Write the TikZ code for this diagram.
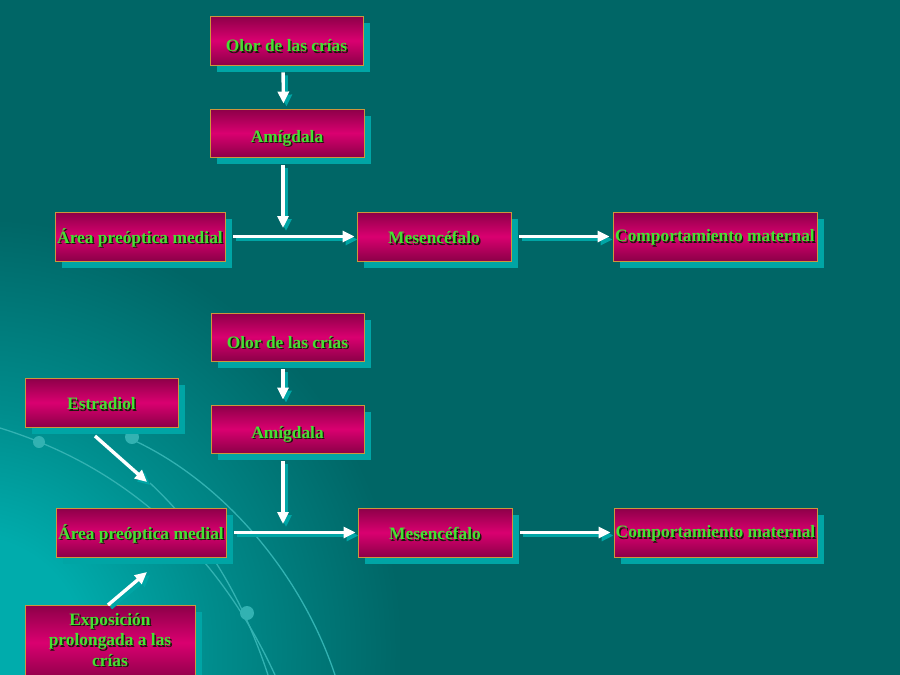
\documentclass[tikz,border=0pt]{standalone}
\usepackage{fontspec}
\setmainfont{Liberation Serif}
\usetikzlibrary{arrows.meta,shadows}
\definecolor{bg}{RGB}{0,102,102}
\definecolor{glowc}{RGB}{0,172,172}
\definecolor{midc}{RGB}{0,140,140}
\definecolor{boxsh}{RGB}{0,165,165}
\definecolor{magedge}{RGB}{140,0,72}
\definecolor{magmid}{RGB}{218,0,112}
\definecolor{gold}{RGB}{204,150,60}
\definecolor{tgreen}{RGB}{70,225,50}
\definecolor{tshadow}{RGB}{25,25,10}
\definecolor{arrsh}{RGB}{0,165,165}
\definecolor{decoc}{RGB}{50,178,178}
\pgfdeclareradialshading{glow}{\pgfpoint{0bp}{0bp}}{color(0bp)=(glowc); color(6bp)=(glowc); color(13bp)=(midc); color(23bp)=(bg); color(25bp)=(bg); color(50bp)=(bg)}
\newcommand\gtext[1]{\leavevmode\rlap{\kern1.4pt\raisebox{-1.4pt}{\color{tshadow}#1}}{\color{tgreen}#1}}
\newcommand\lowr[2]{\raisebox{-#1}[\height][\depth]{#2}}
\tikzset{
  box/.style={rectangle, inner sep=0pt, draw=gold, line width=0.9pt,
    top color=magedge, bottom color=magedge, middle color=magmid,
    drop shadow={shadow xshift=7pt, shadow yshift=-7pt, fill=boxsh, opacity=1},
    font=\fontsize{17.4}{20.5}\selectfont\bfseries, align=center},
  arr/.style={draw=white, line width=3.4pt, -{Triangle[length=12pt,width=11pt]},
    preaction={draw=arrsh, line width=3.4pt, -{Triangle[length=12pt,width=11pt]}, transform canvas={shift={(3pt,-3pt)}}}},
  deco/.style={draw=decoc, line width=1.3pt}
}
\begin{document}
\begin{tikzpicture}[x=1pt,y=-1pt]
\useasboundingbox (0,0) rectangle (900,675);
\fill[bg] (0,0) rectangle (900,675);
\begin{scope}
\clip (0,0) rectangle (900,675);
\shade[shading=glow] (-30,650) circle (470);
\draw[deco] (0,428) .. controls (120,465) and (215,545) .. (275,675);
\draw[deco] (133,440) .. controls (220,480) and (300,570) .. (335,675);
\draw[deco] (150,483) .. controls (200,530) and (240,590) .. (268,675);
\fill[decoc] (39,442) circle (6);
\fill[decoc] (132,437) circle (7);
\fill[decoc] (247,613) circle (7);
\end{scope}

% top section
\node[box, minimum width=153, minimum height=49] (olor1) at (286.5,40.5) {\gtext{\lowr{6pt}{Olor de las crías}}};
\node[box, minimum width=154, minimum height=48] (amig1) at (287,133) {\gtext{\lowr{6pt}{Amígdala}}};
\node[box, minimum width=170, minimum height=49] (area1) at (140,236.5) {\gtext{\lowr{2pt}{Área preóptica medial}}};
\node[box, minimum width=154, minimum height=49] (mes1) at (434,236.5) {\gtext{\lowr{2pt}{Mesencéfalo}}};
\node[box, minimum width=204, minimum height=49] (comp1) at (715,236.5) {\gtext{\lowr{2pt}{Comportamiento maternal}}};
\coordinate (j1) at (283,228);

% bottom section
\node[box, minimum width=153, minimum height=48] (olor2) at (287.5,337) {\gtext{\lowr{6pt}{Olor de las crías}}};
\node[box, minimum width=153, minimum height=48] (amig2) at (287.5,429) {\gtext{\lowr{6pt}{Amígdala}}};
\node[box, minimum width=153, minimum height=49] (estr) at (101.5,402.5) {\gtext{\lowr{2pt}{Estradiol}}};
\node[box, minimum width=170, minimum height=49] (area2) at (141,532.5) {\gtext{\lowr{2pt}{Área preóptica medial}}};
\node[box, minimum width=154, minimum height=49] (mes2) at (435,532.5) {\gtext{\lowr{2pt}{Mesencéfalo}}};
\node[box, minimum width=203, minimum height=49] (comp2) at (715.5,532.5) {\gtext{\lowr{2pt}{Comportamiento maternal}}};
\node[box, minimum width=170, minimum height=75] (expo) at (110,642.5) {\gtext{\begin{tabular}{@{}c@{}}Exposición\\prolongada a las\\crías\end{tabular}}};
\coordinate (j2) at (283,524);
\coordinate (e1) at (95,436);
\coordinate (e2) at (147,482);
\coordinate (x1) at (108,605);
\coordinate (x2) at (147,572);

% arrows top
\draw[arr, shorten <=7pt, shorten >=5pt] ([xshift=-3.5pt]olor1.south) -- ([xshift=-3.5pt]amig1.north);
\draw[arr, shorten <=8pt] ([xshift=-4pt]amig1.south) -- (j1);
\draw[arr, shorten <=8pt, shorten >=2pt] (area1.east) -- (mes1.west);
\draw[arr, shorten <=8pt, shorten >=3pt] (mes1.east) -- (comp1.west);

% arrows bottom
\draw[arr, shorten <=8pt, shorten >=5pt] ([xshift=-4.5pt]olor2.south) -- ([xshift=-4.5pt]amig2.north);
\draw[arr, shorten <=8pt] ([xshift=-4.5pt]amig2.south) -- (j2);
\draw[arr, shorten <=8pt, shorten >=2pt] (area2.east) -- (mes2.west);
\draw[arr, shorten <=8pt, shorten >=3pt] (mes2.east) -- (comp2.west);
\draw[arr] (e1) -- (e2);
\draw[arr] (x1) -- (x2);
\end{tikzpicture}
\end{document}
